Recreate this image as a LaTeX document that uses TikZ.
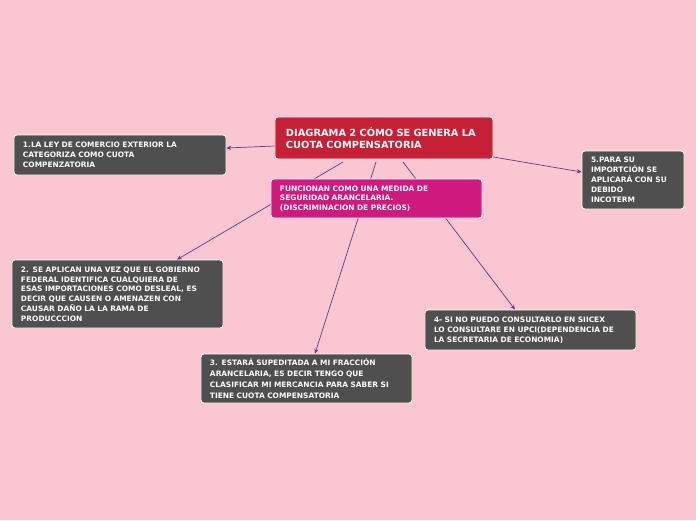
\documentclass[tikz,border=0pt]{standalone}
\usepackage{fontspec}
\setmainfont{DejaVu Sans}
\usetikzlibrary{arrows.meta}
\definecolor{bgpink}{HTML}{F9C6D1}
\definecolor{mainred}{HTML}{C62036}
\definecolor{notemag}{HTML}{D0197E}
\definecolor{cardgrey}{HTML}{4F4F4F}
\definecolor{linkpurple}{HTML}{603C8C}

\begin{document}
\begin{tikzpicture}[x=0.03cm,y=-0.03cm,
    card/.style = {draw=white, line width=0.7pt, rounded corners=2.5pt, text=white,
        font=\bfseries\fontsize{6.35}{8.3}\selectfont, align=left, inner xsep=0.27cm,
        inner ysep=0pt, minimum width=6.33cm},
    topic/.style = {card, fill=mainred, font=\bfseries\fontsize{8.4}{11}\selectfont,
        inner xsep=0.33cm, text width=5.88cm, minimum width=6.54cm, minimum height=1.26cm},
    link/.style = {draw=linkpurple, line width=0.6pt},
    arr/.style = {link, -{Stealth[length=4pt,width=3.5pt]}}]
    \useasboundingbox[fill=bgpink] (0,0) rectangle (696,520);
    % branches going down, drawn first so the note lies over them
    \coordinate (m2) at (343,162);
    \coordinate (m3) at (376,162);
    \coordinate (m4) at (403,162);
    \node[card, fill=cardgrey, text width=5.79cm, minimum height=2.04cm] (dos) at (117.5,294)
        {2. SE APLICAN UNA VEZ QUE EL GOBIERNO\\ FEDERAL IDENTIFICA CUALQUIERA DE\\ ESAS IMPORTACIONES COMO DESLEAL, ES\\ DECIR QUE CAUSEN O AMENAZEN CON\\ CAUSAR DAÑO LA LA RAMA DE\\ PRODUCCCION};
    \node[card, fill=cardgrey, text width=5.79cm, minimum height=1.47cm,
        font=\bfseries\fontsize{6.35}{9.4}\selectfont] (tres) at (306.5,378.5)
        {3. ESTARÁ SUPEDITADA A MI FRACCIÓN\\ ARANCELARIA, ES DECIR TENGO QUE\\ CLASIFICAR MI MERCANCIA PARA SABER SI\\ TIENE CUOTA COMPENSATORIA};
    \node[card, fill=cardgrey, text width=5.79cm, minimum height=1.2cm] (cuatro) at (530.5,330)
        {4- SI NO PUEDO CONSULTARLO EN SIICEX\\ LO CONSULTARE EN UPCI(DEPENDENCIA DE\\ LA SECRETARIA DE ECONOMIA)};
    \draw[arr] (m2) -- (dos.north -| 177,0);
    \draw[arr] (m3) -- (tres.north -| 315,0);
    \draw[arr] (m4) -- (cuatro.north -| 515,0);
    % central topic and side cards
    \node[topic] (main) at (384,138) {DIAGRAMA 2 CÓMO SE GENERA LA\\ CUOTA COMPENSATORIA};
    \node[card, fill=cardgrey, minimum width=6.36cm, text width=5.82cm, minimum height=1.2cm] (uno) at (120,155)
        {1.LA LEY DE COMERCIO EXTERIOR LA\\ CATEGORIZA COMO CUOTA\\ COMPENZATORIA};
    \node[card, fill=cardgrey, minimum width=3.06cm, text width=2.52cm, minimum height=1.74cm,
        font=\bfseries\fontsize{6.35}{8.6}\selectfont] (cinco) at (633,180)
        {5.PARA SU\\ IMPORTCIÓN SE\\ APLICARÁ CON SU\\ DEBIDO\\ INCOTERM};
    \node[card, fill=notemag, text width=5.79cm, minimum height=1.17cm] (nota) at (376.5,198.5)
        {FUNCIONAN COMO UNA MEDIDA DE\\ SEGURIDAD ARANCELARIA.\\ (DISCRIMINACION DE PRECIOS)};
    \draw[arr] (main.west |- 0,146) -- (uno.east |- 0,148);
    \draw[arr] (main.east |- 0,157) -- (cinco.west |- 0,172);
\end{tikzpicture}
\end{document}
